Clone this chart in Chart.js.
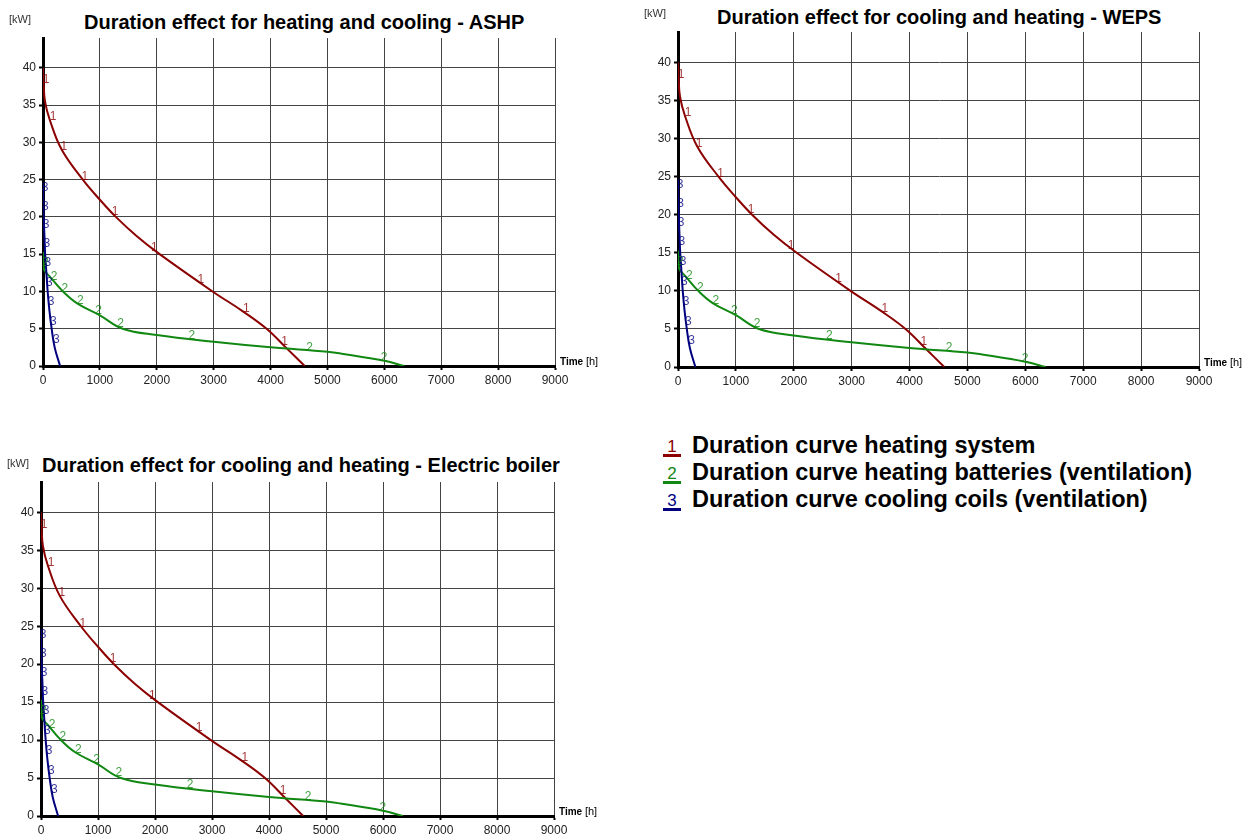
<!DOCTYPE html>
<html>
<head>
<meta charset="utf-8">
<script src="https://cdn.jsdelivr.net/npm/chart.js@4.4.1/dist/chart.umd.min.js"></script>
<style>
  body { margin: 0; background: #fff; width: 1245px; height: 837px; overflow: hidden; position: relative; font-family: "Liberation Sans", Arial, sans-serif; }
  canvas { position: absolute; }
  .title { position: absolute; font-weight: bold; font-size: 20px; line-height: 20px; color: #000; white-space: nowrap; }
  .legend { position: absolute; left: 663px; top: 432px; font-weight: bold; font-size: 23.5px; line-height: 27px; color: #000; }
  .legend div { white-space: nowrap; }
  .legend .num { display: inline-block; width: 18px; text-align: center; font-weight: normal; font-size: 17px; line-height: 14px; border-bottom: 3px solid; margin-right: 11px; vertical-align: 1px; }
</style>
</head>
<body>

<div class="title" style="left:84px; top:12px;">Duration effect for heating and cooling - ASHP</div>
<div class="title" style="left:717px; top:7px;">Duration effect for cooling and heating - WEPS</div>
<div class="title" style="left:42px; top:455px;">Duration effect for cooling and heating - Electric boiler</div>

<canvas id="chartASHP" width="620" height="400" style="left:0; top:0;"></canvas>
<canvas id="chartWEPS" width="625" height="400" style="left:620px; top:0;"></canvas>
<canvas id="chartBoiler" width="620" height="397" style="left:0; top:440px;"></canvas>

<div class="legend">
  <div><span class="num" style="color:#8b0000; border-color:#8b0000;">1</span>Duration curve heating system</div>
  <div><span class="num" style="color:#118811; border-color:#118811;">2</span>Duration curve heating batteries (ventilation)</div>
  <div><span class="num" style="color:#00007f; border-color:#00007f;">3</span>Duration curve cooling coils (ventilation)</div>
</div>

<script>
// duration curves, hours per year vs load in kW
const heatHours = [0, 10, 35, 120, 330, 700, 1000, 1280, 1650, 2050, 2980, 3500, 3930, 4280, 4600];
const heatKw    = [40, 38, 35.5, 33, 29, 25, 22.3, 20, 17.4, 15, 10, 7.4, 5, 2.4, 0];

const battHours = [0, 15, 120, 350, 600, 1000, 1400, 2000, 3000, 4000, 5000, 5250, 6000, 6350];
const battKw    = [15.3, 13, 12, 10, 8.4, 6.8, 5, 4.15, 3.25, 2.5, 1.9, 1.65, 0.7, 0];

const coolHours = [0, 5, 12, 25, 38, 60, 82, 112, 152, 205, 300];
const coolKw    = [24.5, 22, 20, 17.5, 15, 12.5, 10, 7.5, 5, 2.5, 0];

// where the curve numbers sit along each line
const heatMarkHours = [20, 140, 330, 700, 1230, 1920, 2740, 3540, 4210];
const heatMarkKw    = [38, 33, 29, 25, 20.3, 15.5, 11.2, 7.3, 2.9];
const battMarkHours = [5, 160, 350, 620, 940, 1330, 2580, 4650, 5960];
const battMarkKw    = [13.5, 11.6, 10, 8.3, 7, 5.3, 3.7, 2.1, 0.75];
const coolMarkHours = [2, 8, 20, 33, 52, 75, 105, 145, 200];
const coolMarkKw    = [23.5, 21, 18.5, 16, 13.5, 10.8, 8.2, 5.6, 3.1];

const xTicks = [0, 1000, 2000, 3000, 4000, 5000, 6000, 7000, 8000, 9000];
const yTicks = [0, 5, 10, 15, 20, 25, 30, 35, 40];

const RED = '#8b0000', GREEN = '#118811', BLUE = '#00007f';

function pts(xs, ys) {
  return xs.map((x, i) => ({ x: x, y: ys[i] }));
}

// writes the curve number on top of each line, plus the unit captions
const curveNumbers = {
  id: 'curveNumbers',
  afterDatasetsDraw(chart) {
    const ctx = chart.ctx;
    const xs = chart.scales.x, ys = chart.scales.y;
    ctx.save();
    ctx.font = '12px "Liberation Sans", Arial, sans-serif';
    ctx.textAlign = 'center';
    ctx.textBaseline = 'middle';
    chart.data.datasets.forEach(ds => {
      ctx.fillStyle = ds.borderColor;
      ctx.globalAlpha = 0.8;
      ds.markHours.forEach((h, i) => {
        const px = xs.getPixelForValue(h);
        const py = ys.getPixelForValue(ds.markKw[i]);
        ctx.fillText(ds.tag, px + 2, py - 3);
      });
    });
    ctx.globalAlpha = 1;
    const a = chart.chartArea;
    ctx.fillStyle = '#333';
    ctx.textAlign = 'left';
    ctx.font = '11px "Liberation Sans", Arial, sans-serif';
    ctx.fillText('[kW]', a.left - 34, a.top - 18);
    ctx.fillStyle = '#000';
    ctx.font = 'bold 10px "Liberation Sans", Arial, sans-serif';
    ctx.fillText('Time', a.right + 5, a.bottom - 4);
    const w = ctx.measureText('Time ').width;
    ctx.font = '11px "Liberation Sans", Arial, sans-serif';
    ctx.fillText('[h]', a.right + 5 + w, a.bottom - 4);
    ctx.restore();
  }
};

function makeChart(id, left, top, right, xHeight) {
  const canvas = document.getElementById(id);
  const tickFont = { family: '"Liberation Sans", Arial, sans-serif', size: 12 };
  return new Chart(canvas, {
    type: 'line',
    data: {
      datasets: [
        { data: pts(heatHours, heatKw), borderColor: RED, tag: '1', markHours: heatMarkHours, markKw: heatMarkKw, order: 3 },
        { data: pts(battHours, battKw), borderColor: GREEN, tag: '2', markHours: battMarkHours, markKw: battMarkKw, order: 2 },
        { data: pts(coolHours, coolKw), borderColor: BLUE, tag: '3', markHours: coolMarkHours, markKw: coolMarkKw, order: 1 }
      ]
    },
    options: {
      responsive: false,
      animation: false,
      devicePixelRatio: 1,
      elements: {
        line: { borderWidth: 2, tension: 0.4, fill: false },
        point: { radius: 0, hoverRadius: 0 }
      },
      layout: { padding: { left: 0, top: top, right: canvas.width - right, bottom: 0 } },
      plugins: { legend: { display: false }, tooltip: { enabled: false }, title: { display: false } },
      scales: {
        x: {
          type: 'linear', min: 0, max: 9000,
          afterBuildTicks: s => { s.ticks = xTicks.map(v => ({ value: v })); },
          afterFit: s => { s.height = xHeight; },
          ticks: { color: '#222', font: tickFont, padding: 3, maxRotation: 0, callback: v => String(v) },
          grid: { color: '#444', lineWidth: 1, tickColor: '#000', tickWidth: 2, tickLength: 4 },
          border: { color: '#000', width: 3 }
        },
        y: {
          type: 'linear', min: 0, max: 44,
          afterBuildTicks: s => { s.ticks = yTicks.map(v => ({ value: v })); },
          afterFit: s => { s.width = left; },
          ticks: { color: '#222', font: tickFont, padding: 3, callback: v => String(v) },
          grid: { color: '#444', lineWidth: 1, tickColor: '#000', tickWidth: 2, tickLength: 4 },
          border: { color: '#000', width: 3 }
        }
      }
    },
    plugins: [curveNumbers]
  });
}

makeChart('chartASHP', 43, 38, 555, 34);
makeChart('chartWEPS', 58, 32, 579, 33);
makeChart('chartBoiler', 41, 42, 554, 21);
</script>
</body>
</html>
